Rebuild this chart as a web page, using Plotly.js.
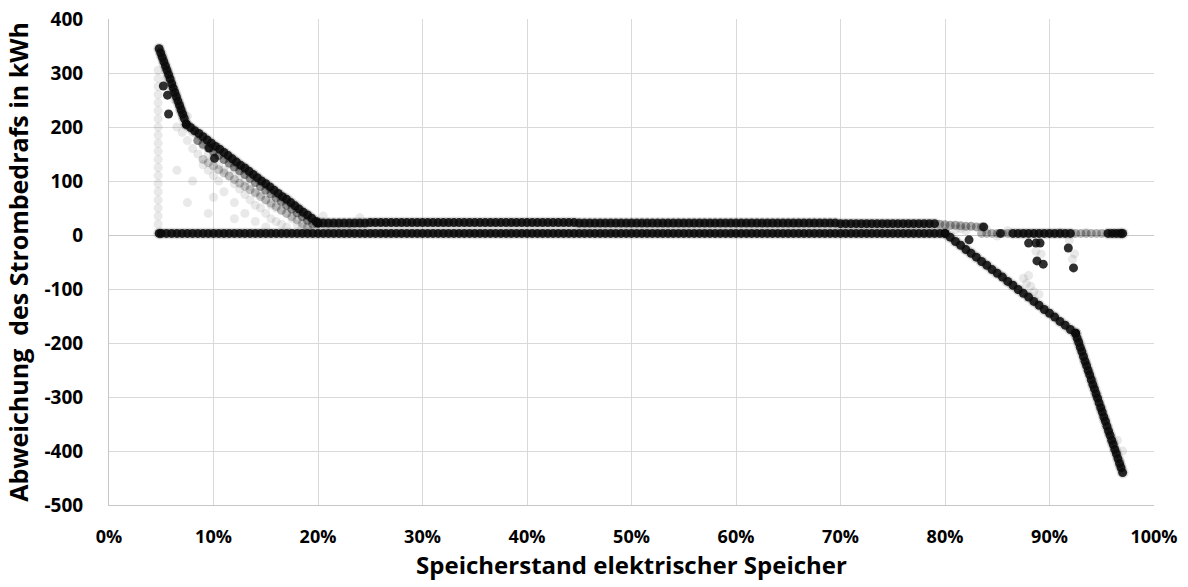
<!DOCTYPE html>
<html>
<head>
<meta charset="utf-8">
<script src="https://cdn.plot.ly/plotly-3.0.1.min.js"></script>
<style>html,body{margin:0;padding:0;background:#fff;}#chart{width:1188px;height:587px;}</style>
</head>
<body>
<div id="chart"></div>
<script>
// Speicherstand (%) and Abweichung (kWh)
const bandLowX = [4.8,5,5.5,6,6.5,7,7.5,8,8.5,9,9.5,10,10.5,11,11.5,12,12.5,13,13.5,14,14.5,15,15.5,16,16.5,17,17.5,18,18.5,19,19.5,20,20.5,21,21.5,22,22.5,23,23.5,24,24.5,25,25.5,26,26.5,27,27.5,28,28.5,29,29.5,30,30.5,31,31.5,32,32.5,33,33.5,34,34.5,35,35.5,36,36.5,37,37.5,38,38.5,39,39.5,40,40.5,41,41.5,42,42.5,43,43.5,44,44.5,45,45.5,46,46.5,47,47.5,48,48.5,49,49.5,50,50.5,51,51.5,52,52.5,53,53.5,54,54.5,55,55.5,56,56.5,57,57.5,58,58.5,59,59.5,60,60.5,61,61.5,62,62.5,63,63.5,64,64.5,65,65.5,66,66.5,67,67.5,68,68.5,69,69.5,70,70.5,71,71.5,72,72.5,73,73.5,74,74.5,75,75.5,76,76.5,77,77.5,78,78.5,79,79.5,80];
const bandLowY = [3,3,3,3,3,3,3,3,3,3,3,3,3,3,3,3,3,3,3,3,3,3,3,3,3,3,3,3,3,3,3,3,3,3,3,3,3,3,3,3,3,3,3,3,3,3,3,3,3,3,3,3,3,3,3,3,3,3,3,3,3,3,3,3,3,3,3,3,3,3,3,3,3,3,3,3,3,3,3,3,3,3,3,3,3,3,3,3,3,3,3,3,3,3,3,3,3,3,3,3,3,3,3,3,3,3,3,3,3,3,3,3,3,3,3,3,3,3,3,3,3,3,3,3,3,3,3,3,3,3,3,3,3,3,3,3,3,3,3,3,3,3,3,3,3,3,3,3,3,3,3,3];

const bandHighX = [20,20.5,21,21.5,22,22.5,23,23.5,24,24.5,25,25.5,26,26.5,27,27.5,28,28.5,29,29.5,30,30.5,31,31.5,32,32.5,33,33.5,34,34.5,35,35.5,36,36.5,37,37.5,38,38.5,39,39.5,40,40.5,41,41.5,42,42.5,43,43.5,44,44.5,45,45.5,46,46.5,47,47.5,48,48.5,49,49.5,50,50.5,51,51.5,52,52.5,53,53.5,54,54.5,55,55.5,56,56.5,57,57.5,58,58.5,59,59.5,60,60.5,61,61.5,62,62.5,63,63.5,64,64.5,65,65.5,66,66.5,67,67.5,68,68.5,69,69.5,70,70.5,71,71.5,72,72.5,73,73.5,74,74.5,75,75.5,76,76.5,77,77.5,78,78.5,79];
const bandHighY = [22,22,22,22,22,22,22,22,22,22,23,23,23,23,23,23,23,23,23,23,23,23,23,23,23,23,23,23,23,23,23,23,23,23,23,23,23,23,23,23,23,23,23,23,23,23,23,23,23,23,22,22,22,22,22,22,22,22,22,22,22,22,22,22,22,22,22,22,22,22,22,22,22,22,22,22,22,22,22,22,22,22,22,22,22,22,22,22,22,22,22,22,22,22,22,22,22,22,22,22,21,21,21,21,21,21,21,21,21,21,21,21,21,21,21,21,21,21,21];

const fadeHighX = [79.5,80,80.5,81,81.5,82,82.5,83,83.5];
const fadeHighY = [20,19,18,18,17,16,16,15,15];

const steepLeftX = [4.8,4.95,5.1,5.25,5.4,5.55,5.7,5.85,6.0,6.15,6.3,6.45,6.6,6.75,6.9,7.05,7.2,7.4];
const steepLeftY = [345,337,329,321,313,305,297,289,280,272,264,256,248,240,232,224,216,205];

const diagLeftX = [7.4,7.8,8.2,8.6,9.0,9.4,9.8,10.2,10.6,11.0,11.4,11.8,12.2,12.6,13.0,13.4,13.8,14.2,14.6,15.0,15.4,15.8,16.2,16.6,17.0,17.4,17.8,18.2,18.6,19.0,19.4,19.8,20.0];
const diagLeftY = [205,199,193,188,182,176,170,164,159,153,147,141,135,129,124,118,112,106,100,95,89,83,77,71,66,60,54,48,42,37,31,25,22];

const diagLeft2X = [8.5,9,9.5,10,10.5,11,11.5,12,12.5,13,13.5,14,14.5,15,15.5,16,16.5,17,17.5,18,18.5,19,19.5];
const diagLeft2Y = [175,168,161,154,147,140,133,126,119,112,105,97,90,83,76,69,62,55,48,41,34,27,20];

const diagLeft3X = [9,9.5,10,10.5,11,11.5,12,12.5,13,13.5,14,14.5,15,15.5,16,16.5,17,17.5,18,18.5,19];
const diagLeft3Y = [140,134,128,121,115,109,103,96,90,84,78,71,65,59,53,46,40,34,28,21,15];

const dropRightX = [80,80.5,81,81.5,82,82.5,83,83.5,84,84.5,85,85.5,86,86.5,87,87.5,88,88.5,89,89.5,90,90.5,91,91.5,92,92.5];
const dropRightY = [3,-4,-12,-19,-27,-34,-41,-49,-56,-64,-71,-78,-86,-93,-101,-108,-115,-123,-130,-138,-145,-152,-160,-167,-175,-182];

const steepRightX = [92.5,92.65,92.8,92.95,93.1,93.25,93.4,93.55,93.7,93.85,94.0,94.15,94.3,94.45,94.6,94.75,94.9,95.05,95.2,95.35,95.5,95.65,95.8,95.95,96.1,96.25,96.4,96.55,96.7,96.85,97.0];
const steepRightY = [-182,-191,-199,-208,-216,-225,-234,-242,-251,-259,-268,-277,-285,-294,-302,-311,-320,-328,-337,-345,-354,-363,-371,-380,-388,-397,-405,-414,-423,-431,-440];

const tailDarkX = [86.5,87,87.5,88,88.5,89,89.5,90,90.5,91,91.5,92,95.6,96,96.4,96.8,97];
const tailDarkY = [3,3,3,3,3,3,3,3,3,3,3,3,3,3,3,3,3];
const tailLightX = [83.5,84,84.5,85,85.5,86,92.5,93,93.5,94,94.5,95];
const tailLightY = [3,3,3,3,3,3,3,3,3,3,3,3];

const dotsX = [5.2,5.6,5.7,9.6,10.1,82.3,88,88.7,89.1,88.8,89.4,91.8,92.3,83.7,85.3];
const dotsY = [276,259,224,161,142,-9,-15,-15,-15,-48,-54,-24,-61,15,3];

const faintX = [4.7,4.7,4.7,4.7,4.7,4.7,4.7,4.7,4.7,4.7,4.7,4.7,4.7,4.7,4.7,4.7,4.7,4.7,4.7,4.7,
 5.5,6,6.3,6.8,6.5,7,7.5,8,8,8.5,8.5,9,9,9.5,9.5,10,10,10.5,10.5,11,11,11,11.5,11.5,12,12,12,12.5,12.5,13,13,13,13.5,13.5,14,14,14,14.5,14.5,15,15,15,15.5,15.5,16,16,16.5,16.5,17,17,17.5,18,18.5,19,7.5,9.5,12,8,10,6.5,20.5,24,22,23,21,6.8,7.5,
 81,81.5,82,84,86,87.5,87.8,88.2,88.5,88,89,88.7,89.2,91.9,92.4,92.2,85,91,93.5,94.2,95,94.5,96.5,97,96.8];
const faintY = [20,35,50,65,80,95,110,125,140,155,170,185,200,215,230,245,260,275,290,305,
 290,270,250,230,200,190,175,190,160,150,175,130,165,120,150,110,145,130,100,120,140,80,110,130,95,120,60,85,110,75,100,40,65,90,55,80,25,50,75,40,65,15,30,55,25,50,20,45,15,40,30,20,15,10,60,40,30,100,70,120,35,32,10,8,10,240,220,
 10,12,8,10,8,-80,-90,-95,-105,-75,-110,-30,-35,-10,-35,-45,-2,5,5,-270,-320,-300,-380,-400,-420];

const xTickVals = [0,10,20,30,40,50,60,70,80,90,100];
const xTickText = ['0%','10%','20%','30%','40%','50%','60%','70%','80%','90%','100%'];
const yTickVals = [-500,-400,-300,-200,-100,0,100,200,300,400];
const yTickText = ['-500','-400','-300','-200','-100','0','100','200','300','400'];

const FONT = 'Open Sans, Liberation Sans, sans-serif';
function pts(x, y, op, size) {
  return {type:'scatter', mode:'markers', x:x, y:y, hoverinfo:'skip', showlegend:false,
    marker:{color:'#0a0a0a', size:size, opacity:op, line:{width:0}}};
}
const dense = [[bandLowX,bandLowY],[bandHighX,bandHighY],[steepLeftX,steepLeftY],[diagLeftX,diagLeftY],
  [dropRightX,dropRightY],[steepRightX,steepRightY],[tailDarkX,tailDarkY]];
const traces = [
  pts(faintX, faintY, 0.09, 9),
  pts(diagLeft3X, diagLeft3Y, 0.22, 9),
  pts(diagLeft2X, diagLeft2Y, 0.42, 9)
];
dense.forEach(d => traces.push(pts(d[0], d[1], 0.12, 12)));
dense.forEach(d => traces.push(pts(d[0], d[1], 0.88, 9)));
traces.push(pts(fadeHighX, fadeHighY, 0.35, 9));
traces.push(pts(tailLightX, tailLightY, 0.3, 9));
traces.push(pts(dotsX, dotsY, 0.85, 9));

const layout = {
  width:1188, height:587,
  margin:{l:109, r:34, t:19, b:82},
  paper_bgcolor:'#fff', plot_bgcolor:'#fff',
  font:{family:FONT, color:'#000'},
  xaxis:{range:[0,100], tickvals:xTickVals, ticktext:xTickText, showgrid:true, gridcolor:'#d9d9d9', gridwidth:1,
    zeroline:false, showline:true, linecolor:'#c6c6c6', linewidth:1,
    ticks:'outside', ticklen:15, tickcolor:'rgba(0,0,0,0)',
    tickfont:{family:FONT, size:18, color:'#000', weight:'bold'},
    title:{text:'Speicherstand elektrischer Speicher', font:{family:FONT, size:24, color:'#000', weight:'bold'}, standoff:5}},
  yaxis:{range:[-500,400], tickvals:yTickVals, ticktext:yTickText, showgrid:true, gridcolor:'#d9d9d9', gridwidth:1,
    zeroline:true, zerolinecolor:'#c8c8c8', zerolinewidth:1, showline:true, linecolor:'#c6c6c6', linewidth:1,
    ticks:'outside', ticklen:21, tickcolor:'rgba(0,0,0,0)',
    tickfont:{family:FONT, size:19, color:'#000', weight:'bold'},
    title:{text:'Abweichung \u00a0des Strombedrafs in kWh', font:{family:FONT, size:25, color:'#000', weight:'bold'}, standoff:8}}
};
Plotly.newPlot('chart', traces, layout, {staticPlot:true, displayModeBar:false});
</script>
</body>
</html>
